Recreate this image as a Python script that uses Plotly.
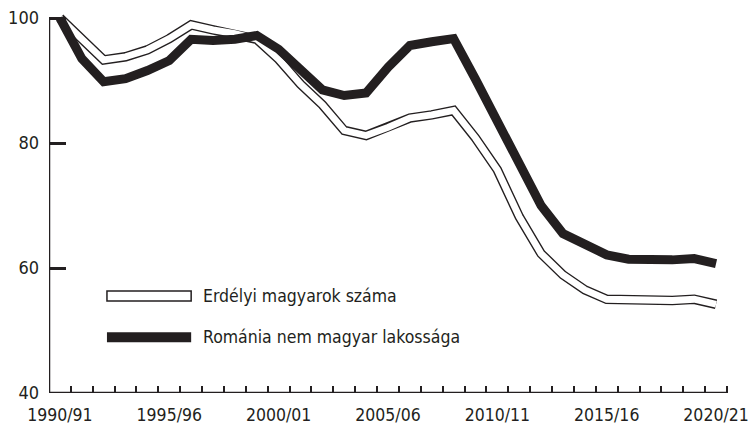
import plotly.graph_objects as go

years = [f"{y}/{str(y + 1)[-2:]}" for y in range(1990, 2021)]
erdelyi = [100, 96.5, 93.3, 93.8, 94.9, 96.7, 98.9, 98.1, 97.5, 96.6, 93.4, 89.4, 86.1, 82.0,
           81.2, 82.5, 84.0, 84.5, 85.2, 80.8, 75.7, 68.2, 62.3, 58.9, 56.5, 55.0, 54.9, 54.8,
           54.8, 55.0, 54.2]
romania = [100, 93.5, 89.8, 90.3, 91.6, 93.2, 96.6, 96.4, 96.6, 97.2, 95.0, 91.7, 88.5, 87.6,
           88.0, 92.1, 95.6, 96.2, 96.7, 90.2, 83.5, 76.6, 70.0, 65.5, 63.6, 62.1, 61.4, 61.2,
           61.3, 61.5, 60.7]
series_names = ["Erdélyi magyarok száma", "Románia nem magyar lakossága"]
y_ticks = [40, 60, 80, 100]
label_years = [0, 5, 10, 15, 20, 25, 30]

INK = "#231f20"
FONT = "DejaVu Sans Condensed, Liberation Sans Narrow, sans-serif"
x = list(range(len(years)))

fig = go.Figure()
# hollow line: black outline + white core
fig.add_trace(go.Scatter(x=x, y=erdelyi, mode="lines", line=dict(color=INK, width=9.5),
                         showlegend=False, hoverinfo="skip"))
fig.add_trace(go.Scatter(x=x, y=erdelyi, mode="lines", line=dict(color="white", width=6.8),
                         name=series_names[0], showlegend=False))
fig.add_trace(go.Scatter(x=x, y=romania, mode="lines", line=dict(color=INK, width=9),
                         name=series_names[1], showlegend=False))

# axis lines
fig.add_shape(type="line", xref="x", yref="y", x0=-0.5, x1=-0.5, y0=40, y1=100,
              line=dict(color=INK, width=2.5))
fig.add_shape(type="line", xref="x", yref="y", x0=-0.5, x1=30.5, y0=40, y1=40,
              line=dict(color=INK, width=2.5))

# manual legend
fig.add_shape(type="rect", xref="x", yref="y", x0=2.15, x1=6.0, y0=54.7, y1=56.3,
              line=dict(color=INK, width=1.5), fillcolor="white")
fig.add_shape(type="rect", xref="x", yref="y", x0=2.15, x1=6.0, y0=48.1, y1=49.7,
              line=dict(color=INK, width=0), fillcolor=INK)
fig.add_annotation(x=6.45, y=55.5, xref="x", yref="y", text=series_names[0], showarrow=False,
                   xanchor="left", yanchor="middle", font=dict(family=FONT, size=17.5, color=INK))
fig.add_annotation(x=6.45, y=48.9, xref="x", yref="y", text=series_names[1], showarrow=False,
                   xanchor="left", yanchor="middle", font=dict(family=FONT, size=17.5, color=INK))

fig.update_xaxes(range=[-0.5, 30.5], showgrid=False, zeroline=False, showline=False,
                 automargin=False,
                 tickmode="array", tickvals=label_years, ticktext=[years[i] for i in label_years],
                 ticks="", tickfont=dict(family=FONT, size=17.5, color=INK),
                 ticklabelstandoff=9, ticklabeloverflow="allow",
                 minor=dict(tickmode="array", tickvals=[i + 0.5 for i in x], ticks="inside",
                            ticklen=7, tickwidth=2, tickcolor=INK, showgrid=False))
fig.update_yaxes(range=[40, 101.12], showgrid=False, zeroline=False, showline=False,
                 automargin=False,
                 tickmode="array", tickvals=y_ticks, ticks="inside", ticklen=17, tickwidth=2.5,
                 tickcolor=INK, tickfont=dict(family=FONT, size=18, color=INK),
                 ticklabelstandoff=9)
fig.update_layout(width=750, height=425, margin=dict(l=49, r=23, t=11, b=32),
                  plot_bgcolor="white", paper_bgcolor="white", showlegend=False)
fig.write_html("out.html", config={"displayModeBar": False},
               post_script="document.body.style.margin='0';document.body.style.overflow='hidden';")
